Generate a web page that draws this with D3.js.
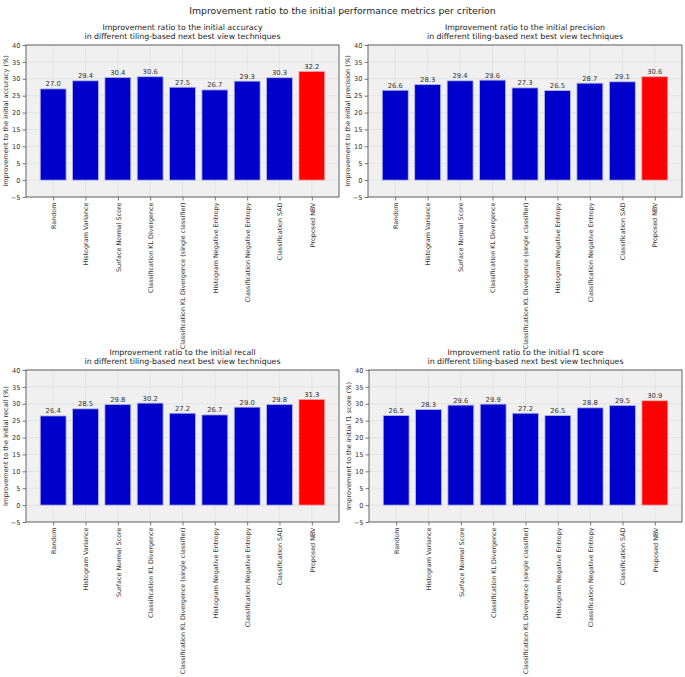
<!DOCTYPE html>
<html>
<head>
<meta charset="utf-8">
<script src="https://cdn.jsdelivr.net/npm/d3@7"></script>
<style>
  html, body { margin: 0; padding: 0; background: #ffffff; }
  svg { display: block; font-family: "DejaVu Sans", sans-serif; }
</style>
</head>
<body>
<svg id="chart" width="685" height="677"></svg>
<script>
const categories = [
  "Random",
  "Histogram Variance",
  "Surface Normal Score",
  "Classification KL Divergence",
  "Classification KL Divergence (single classifier)",
  "Histogram Negative Entropy",
  "Classification Negative Entropy",
  "Classification SAD",
  "Proposed NBV"
];
const accuracyValues  = [27.0, 29.4, 30.4, 30.6, 27.5, 26.7, 29.3, 30.3, 32.2];
const precisionValues = [26.6, 28.3, 29.4, 29.6, 27.3, 26.5, 28.7, 29.1, 30.6];
const recallValues    = [26.4, 28.5, 29.8, 30.2, 27.2, 26.7, 29.0, 29.8, 31.3];
const f1Values        = [26.5, 28.3, 29.6, 29.9, 27.2, 26.5, 28.8, 29.5, 30.9];
const metricNames = ["accuracy", "precision", "recall", "f1 score"];
const yTicks = [-5, 0, 5, 10, 15, 20, 25, 30, 35, 40];
const mainTitle = "Improvement ratio to the initial performance metrics per criterion";

const seriesList = [accuracyValues, precisionValues, recallValues, f1Values];
const panels = [
  {x0: 26,  x1: 339, y0: 45,  y1: 197},
  {x0: 368, x1: 682, y0: 45,  y1: 197},
  {x0: 26,  x1: 339, y0: 370, y1: 522},
  {x0: 369, x1: 682, y0: 370, y1: 522}
];

const svg = d3.select("#chart");
svg.append("rect").attr("width", 685).attr("height", 677).attr("fill", "#ffffff");

svg.append("text")
  .attr("x", 342.5).attr("y", 14)
  .attr("text-anchor", "middle")
  .attr("font-size", 9.3)
  .attr("fill", "#222")
  .text(mainTitle);

const nBars = categories.length;

seriesList.forEach((vals, i) => {
  const p = panels[i];
  const g = svg.append("g");
  const x = d3.scaleLinear().domain([-0.84, nBars - 1 + 0.84]).range([p.x0, p.x1]);
  const y = d3.scaleLinear().domain([-5, 40]).range([p.y1, p.y0]);

  g.append("rect")
    .attr("x", p.x0).attr("y", p.y0)
    .attr("width", p.x1 - p.x0).attr("height", p.y1 - p.y0)
    .attr("fill", "#f0f0f0");

  // grid
  g.selectAll(".hgrid").data(yTicks).enter().append("line")
    .attr("x1", p.x0).attr("x2", p.x1)
    .attr("y1", d => y(d)).attr("y2", d => y(d))
    .attr("stroke", "#dedede").attr("stroke-width", 0.7);
  g.selectAll(".vgrid").data(categories).enter().append("line")
    .attr("x1", (d, j) => x(j)).attr("x2", (d, j) => x(j))
    .attr("y1", p.y0).attr("y2", p.y1)
    .attr("stroke", "#dedede").attr("stroke-width", 0.7);

  // bars
  g.selectAll(".bar").data(vals).enter().append("rect")
    .attr("x", (d, j) => x(j - 0.4))
    .attr("width", (d, j) => x(j + 0.4) - x(j - 0.4))
    .attr("y", d => y(d))
    .attr("height", d => y(0) - y(d))
    .attr("fill", (d, j) => j === nBars - 1 ? "#ff0000" : "#0000cc")
    .attr("stroke", (d, j) => j === nBars - 1 ? "#f4b0b0" : "#b8b8e6")
    .attr("stroke-width", 0.8);

  // value labels
  g.selectAll(".val").data(vals).enter().append("text")
    .attr("x", (d, j) => x(j))
    .attr("y", d => y(d) - 2.5)
    .attr("text-anchor", "middle")
    .attr("font-size", 6.8)
    .attr("fill", "#333")
    .text(d => d.toFixed(1));

  // frame
  g.append("rect")
    .attr("x", p.x0).attr("y", p.y0)
    .attr("width", p.x1 - p.x0).attr("height", p.y1 - p.y0)
    .attr("fill", "none").attr("stroke", "#555").attr("stroke-width", 0.9);

  // y axis
  const yAxis = d3.axisLeft(y).tickValues(yTicks).tickSize(3.5).tickPadding(2)
    .tickFormat(d => d < 0 ? "\u2212" + Math.abs(d) : d);
  const ya = g.append("g").attr("transform", `translate(${p.x0},0)`).call(yAxis);
  ya.select(".domain").remove();
  ya.selectAll("line").attr("stroke", "#555").attr("stroke-width", 0.8);
  ya.selectAll("text").attr("font-size", 6.6).attr("fill", "#333")
    .attr("font-family", "DejaVu Sans, sans-serif");

  // x axis
  const xAxis = d3.axisBottom(x).tickValues(d3.range(nBars)).tickSize(3.5).tickFormat(j => categories[j]);
  const xa = g.append("g").attr("transform", `translate(0,${p.y1})`).call(xAxis);
  xa.select(".domain").remove();
  xa.selectAll("line").attr("stroke", "#555").attr("stroke-width", 0.8);
  xa.selectAll("text")
    .attr("font-size", 6.4).attr("fill", "#333")
    .attr("font-family", "DejaVu Sans, sans-serif")
    .attr("text-anchor", "end")
    .attr("dy", null)
    .attr("transform", "translate(2.2,5.5) rotate(-90)")
    .attr("x", 0).attr("y", 0);

  // y label
  const yl = `Improvement to the initial ${metricNames[i]} (%)`;
  g.append("text")
    .attr("transform", `translate(${p.x0 - 18.5},${(p.y0 + p.y1) / 2}) rotate(-90)`)
    .attr("text-anchor", "middle")
    .attr("font-size", 6.6)
    .attr("fill", "#333")
    .text(yl);

  // title
  const cx = (p.x0 + p.x1) / 2;
  g.append("text")
    .attr("x", cx).attr("y", p.y0 - 15)
    .attr("text-anchor", "middle").attr("font-size", 7.8).attr("fill", "#222")
    .text(`Improvement ratio to the initial ${metricNames[i]}`);
  g.append("text")
    .attr("x", cx).attr("y", p.y0 - 6.5)
    .attr("text-anchor", "middle").attr("font-size", 7.8).attr("fill", "#222")
    .text("in different tiling-based next best view techniques");
});
</script>
</body>
</html>
